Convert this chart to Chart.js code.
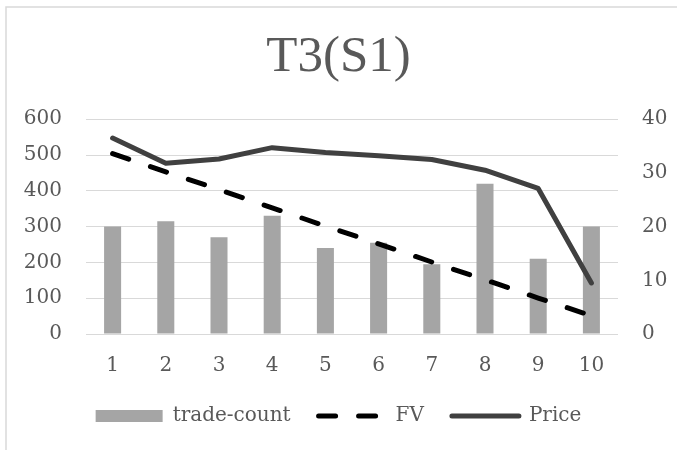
<!DOCTYPE html>
<html>
<head>
<meta charset="utf-8">
<script src="https://cdn.jsdelivr.net/npm/chart.js@4.4.1/dist/chart.umd.min.js"></script>
<style>
    html, body { margin: 0; padding: 0; background: #fff; }
    #wrap { width: 677px; height: 450px; position: relative; }
</style>
</head>
<body>
<div id="wrap"><canvas id="tradeChart"></canvas></div>
<script>
    const categories = ['1', '2', '3', '4', '5', '6', '7', '8', '9', '10'];
    const tradeCount = [300, 315, 270, 330, 240, 255, 195, 420, 210, 300];
    const fairValue = [33.6, 30.2, 26.9, 23.5, 20.1, 16.8, 13.4, 10.1, 6.7, 3.4];
    const price = [36.5, 31.8, 32.6, 34.7, 33.8, 33.2, 32.5, 30.5, 27.1, 9.5];
    const leftTicks = [0, 100, 200, 300, 400, 500, 600];
    const rightTicks = [0, 10, 20, 30, 40];

    const TEXT_COLOR = '#595959';
    const GRID_COLOR = '#d9d9d9';
    const SERIF = '"DejaVu Serif", serif';

    // light frame around the chart, only top and left edges are in view
    const framePlugin = {
        id: 'frame',
        beforeDraw(chart) {
            const ctx = chart.ctx;
            ctx.save();
            ctx.strokeStyle = GRID_COLOR;
            ctx.lineWidth = 1.5;
            ctx.beginPath();
            ctx.moveTo(6, chart.height);
            ctx.lineTo(6, 7);
            ctx.lineTo(chart.width, 7);
            ctx.stroke();
            ctx.restore();
        }
    };

    function legendLabels(chart) {
        const items = Chart.defaults.plugins.legend.labels.generateLabels(chart);
        items.forEach(item => {
            const dataset = chart.data.datasets[item.datasetIndex];
            if (dataset.type === 'line') {
                item.lineDash = dataset.borderDash || [];
                item.lineWidth = dataset.borderWidth;
                item.strokeStyle = dataset.borderColor;
                item.lineCap = 'round';
            } else {
                item.lineWidth = 0;
            }
        });
        return items.sort((a, b) => a.datasetIndex - b.datasetIndex);
    }

    function createChart(canvas) {
        return new Chart(canvas, {
            data: {
                labels: categories,
                datasets: [
                    {
                        type: 'bar',
                        label: 'trade-count',
                        data: tradeCount,
                        yAxisID: 'y',
                        backgroundColor: '#a5a5a5',
                        borderWidth: 0,
                        barPercentage: 0.32,
                        categoryPercentage: 1,
                        pointStyle: 'rect',
                        order: 3
                    },
                    {
                        type: 'line',
                        label: 'FV',
                        data: fairValue,
                        yAxisID: 'y1',
                        borderColor: '#000',
                        backgroundColor: '#000',
                        borderWidth: 5,
                        borderDash: [17, 23],
                        borderCapStyle: 'round',
                        pointRadius: 0,
                        pointStyle: 'line',
                        tension: 0,
                        order: 2
                    },
                    {
                        type: 'line',
                        label: 'Price',
                        data: price,
                        yAxisID: 'y1',
                        borderColor: '#404040',
                        backgroundColor: '#404040',
                        borderWidth: 5,
                        borderCapStyle: 'round',
                        borderJoinStyle: 'round',
                        pointRadius: 0,
                        pointStyle: 'line',
                        tension: 0,
                        order: 1
                    }
                ]
            },
            options: {
                responsive: true,
                maintainAspectRatio: false,
                animation: false,
                layout: {
                    padding: { left: 0, right: 0, top: 0, bottom: 14 }
                },
                scales: {
                    x: {
                        offset: true,
                        grid: { display: false, drawTicks: false },
                        border: { display: false },
                        ticks: {
                            color: TEXT_COLOR,
                            padding: 20,
                            font: { family: SERIF, size: 20 }
                        },
                        afterFit(scale) {
                            scale.height = 44;
                        }
                    },
                    y: {
                        position: 'left',
                        min: 0,
                        max: 600,
                        afterBuildTicks(scale) {
                            scale.ticks = leftTicks.map(value => ({ value }));
                        },
                        grid: { color: GRID_COLOR, lineWidth: 1, drawTicks: false },
                        border: { display: false },
                        ticks: {
                            color: TEXT_COLOR,
                            padding: 24,
                            font: { family: SERIF, size: 20 }
                        },
                        afterFit(scale) {
                            scale.width = 86;
                        }
                    },
                    y1: {
                        position: 'right',
                        min: 0,
                        max: 40,
                        afterBuildTicks(scale) {
                            scale.ticks = rightTicks.map(value => ({ value }));
                        },
                        grid: { display: false, drawTicks: false },
                        border: { display: false },
                        ticks: {
                            color: TEXT_COLOR,
                            padding: 24,
                            font: { family: SERIF, size: 20 }
                        },
                        afterFit(scale) {
                            scale.width = 59;
                        }
                    }
                },
                plugins: {
                    title: {
                        display: true,
                        text: 'T3(S1)',
                        color: TEXT_COLOR,
                        font: { family: '"Liberation Serif", serif', size: 51, weight: 'normal' },
                        padding: { top: 27, bottom: 31 }
                    },
                    legend: {
                        position: 'bottom',
                        labels: {
                            color: TEXT_COLOR,
                            font: { family: SERIF, size: 20 },
                            usePointStyle: true,
                            pointStyleWidth: 67,
                            boxHeight: 12,
                            padding: 28,
                            generateLabels: legendLabels
                        }
                    },
                    tooltip: { enabled: false }
                }
            },
            plugins: [framePlugin]
        });
    }

    createChart(document.getElementById('tradeChart'));
</script>
</body>
</html>
